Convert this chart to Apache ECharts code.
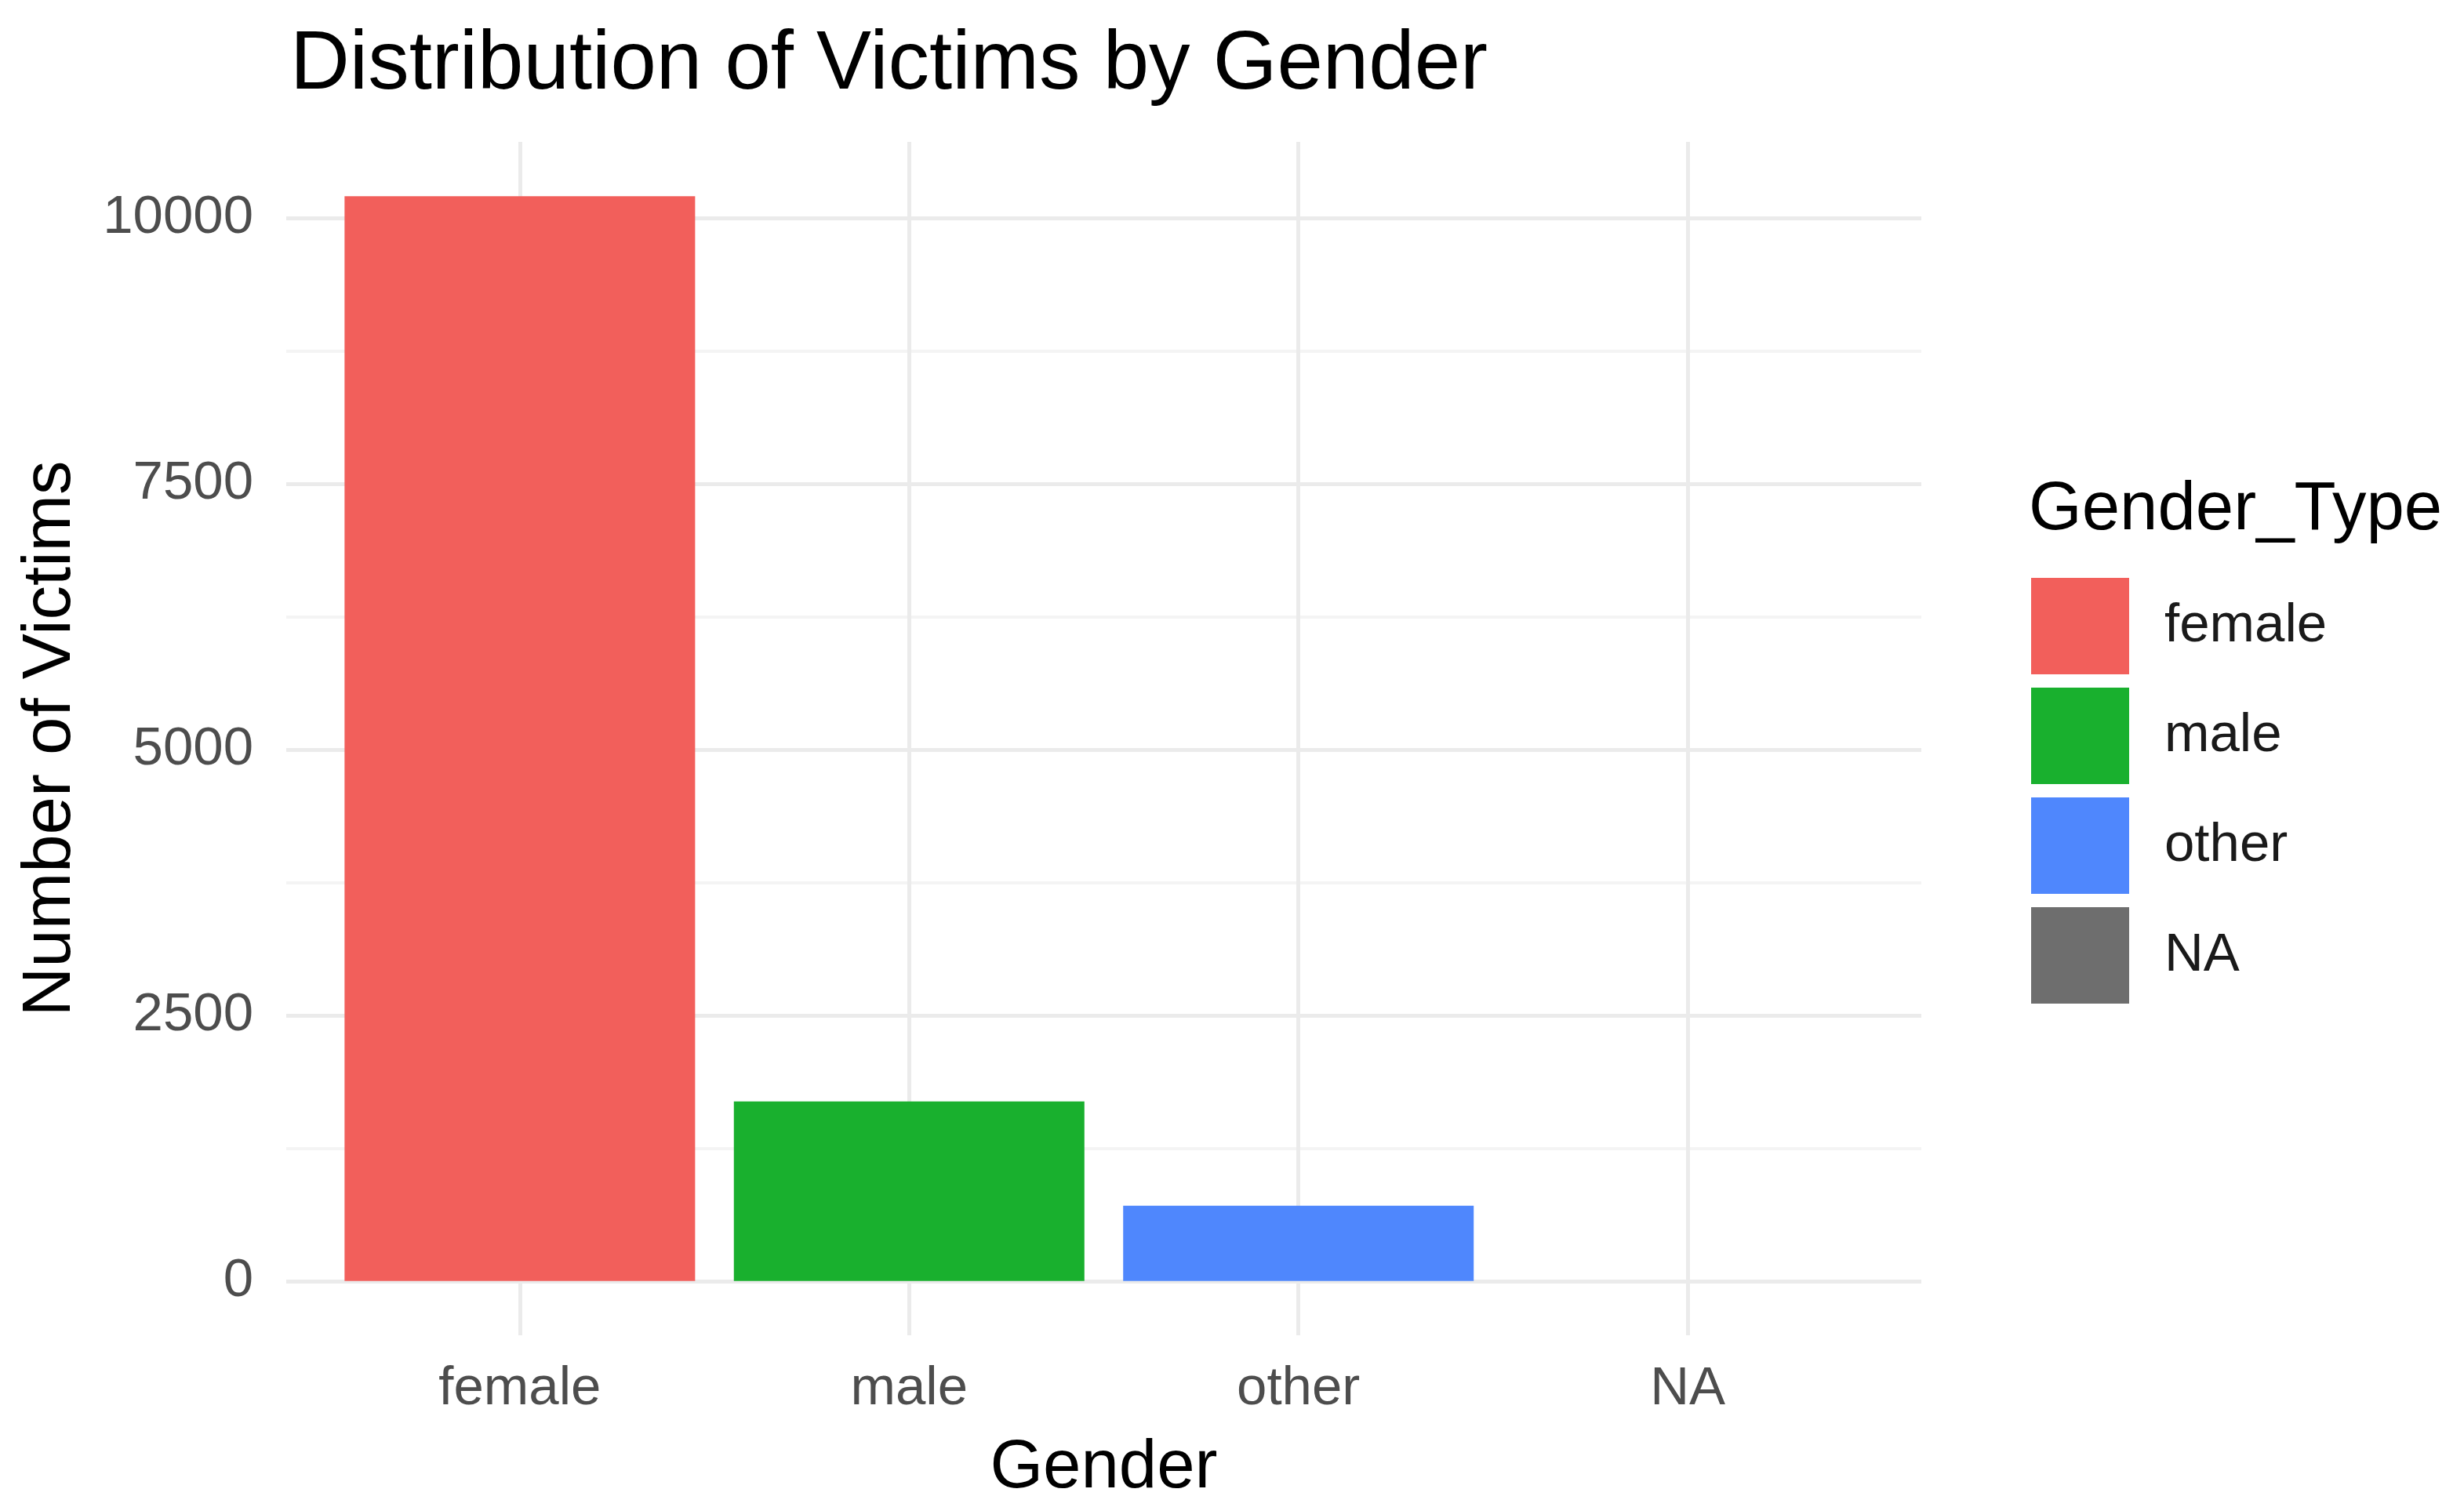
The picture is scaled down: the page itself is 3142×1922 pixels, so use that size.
<!DOCTYPE html>
<html>
<head>
<meta charset="utf-8">
<script src="https://cdn.jsdelivr.net/npm/echarts@6/dist/echarts.min.js"></script>
<style>
html,body{margin:0;padding:0;background:#fff;}
#chart{width:3142px;height:1922px;}
</style>
</head>
<body>
<div id="chart"></div>
<script>
// ---- data ----
const categories = ['female', 'male', 'other', 'NA'];
const values = [10206, 1689, 708, 0];
const xTicks = [0, 1, 2, 3];
const yTicks = [0, 2500, 5000, 7500, 10000];
const yMinorTicks = [1250, 3750, 6250, 8750];

// ---- styles ----
const palette = ['#F25F5B', '#19B02E', '#4F87FD', '#6E6E6E'];
const FONT = '"Liberation Sans", Arial, Helvetica, sans-serif';

const maxVal = Math.max(...values);
const yMin = -0.05 * maxVal;
const yMax = 1.05 * maxVal;

const chart = echarts.init(document.getElementById('chart'), null, {renderer: 'canvas'});

const option = {
  animation: false,
  backgroundColor: '#ffffff',
  title: [
    {
      text: 'Distribution of Victims by Gender',
      left: 365, top: 27,
      textStyle: {fontFamily: FONT, fontSize: 105, fontWeight: 'normal', color: '#000000'}
    },
    {
      text: 'Gender_Type',
      left: 2582, top: 603,
      textStyle: {fontFamily: FONT, fontSize: 87, fontWeight: 'normal', color: '#000000'}
    }
  ],
  legend: {
    orient: 'vertical',
    left: 2585, top: 732,
    itemWidth: 125, itemHeight: 123, itemGap: 17,
    icon: 'rect',
    data: categories,
    textStyle: {fontFamily: FONT, fontSize: 69, color: '#1a1a1a', padding: [0, 0, 0, 40]}
  },
  grid: {left: 365, right: 692, top: 181, bottom: 219, containLabel: false},
  xAxis: {
    type: 'value',
    min: -0.6, max: 3.6,
    name: 'Gender',
    nameLocation: 'middle',
    nameGap: 127,
    nameTextStyle: {fontFamily: FONT, fontSize: 87, color: '#000000'},
    axisLine: {show: false},
    axisTick: {show: false, customValues: xTicks},
    axisLabel: {
      customValues: xTicks,
      margin: 34,
      fontFamily: FONT, fontSize: 69, color: '#4D4D4D',
      formatter: v => categories[Math.round(v)]
    },
    splitLine: {show: true, lineStyle: {color: '#EBEBEB', width: 5}}
  },
  yAxis: [
    {
      type: 'value',
      min: yMin, max: yMax,
      name: 'Number of Victims',
      nameLocation: 'middle',
      nameGap: 256,
      nameRotate: 90,
      nameTextStyle: {fontFamily: FONT, fontSize: 87, color: '#000000'},
      axisLine: {show: false},
      axisTick: {show: false, customValues: yTicks},
      axisLabel: {
        customValues: yTicks,
        margin: 42,
        fontFamily: FONT, fontSize: 69, color: '#4D4D4D',
        formatter: v => String(v)
      },
      splitLine: {show: true, lineStyle: {color: '#EBEBEB', width: 5}}
    },
    {
      type: 'value',
      position: 'left',
      min: yMin, max: yMax,
      axisLine: {show: false},
      axisTick: {show: false, customValues: yMinorTicks},
      axisLabel: {show: false, customValues: yMinorTicks},
      splitLine: {show: true, lineStyle: {color: '#F4F4F4', width: 4}}
    }
  ],
  series: categories.map((c, i) => ({
    name: c,
    type: 'bar',
    xAxisIndex: 0,
    yAxisIndex: 0,
    barWidth: 447,
    barGap: '-100%',
    itemStyle: {color: palette[i]},
    data: [[xTicks[i], values[i]]]
  }))
};
chart.setOption(option);
</script>
</body>
</html>
